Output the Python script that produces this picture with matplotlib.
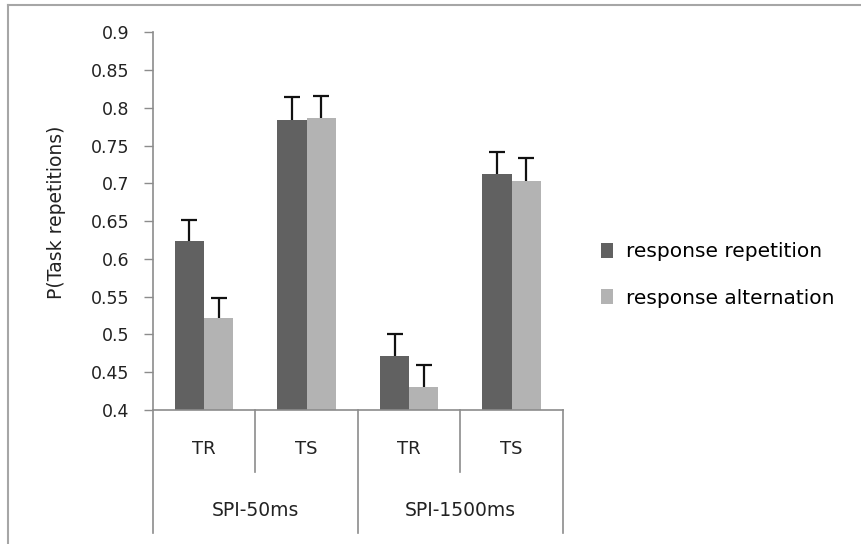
import numpy as np
import matplotlib
matplotlib.use('Agg')
import matplotlib.pyplot as plt
from matplotlib.lines import Line2D
from matplotlib.patches import Patch

# data
conditions = ['TR', 'TS', 'TR', 'TS']
intervals = ['SPI-50ms', 'SPI-1500ms']
series = ['response repetition', 'response alternation']
rep_vals = [0.624, 0.784, 0.472, 0.712]
rep_err = [0.028, 0.030, 0.028, 0.030]
alt_vals = [0.522, 0.786, 0.431, 0.703]
alt_err = [0.026, 0.030, 0.028, 0.031]
yticks = [0.4, 0.45, 0.5, 0.55, 0.6, 0.65, 0.7, 0.75, 0.8, 0.85, 0.9]

dark = '#616161'
light = '#b3b3b3'
axcol = '#8c8c8c'

W, H = 861, 544
fig = plt.figure(figsize=(W/100, H/100), dpi=100)
ax = fig.add_axes([152.7/W, 1-410/H, (563-152.7)/W, (410-32.3)/H])

x = np.arange(len(conditions))
bw = 0.285
ax.bar(x - bw/2, rep_vals, bw, color=dark, zorder=2)
ax.bar(x + bw/2, alt_vals, bw, color=light, zorder=2)
for off, vals, err in [(-bw/2, rep_vals, rep_err), (bw/2, alt_vals, alt_err)]:
    eb = ax.errorbar(x + off, vals, yerr=[np.zeros(4), err], fmt='none',
                     ecolor='#111111', elinewidth=1.6, capsize=6, capthick=1.6,
                     zorder=3)
    eb[1][0].set_visible(False)  # only the upper cap

ax.set_ylim(0.4, 0.9)
ax.set_xlim(-0.5, 3.5)
ax.set_yticks(yticks)
ax.set_yticklabels([('%g' % v) for v in yticks])
ax.tick_params(axis='y', direction='out', length=6.3, width=1, color=axcol,
               pad=10.5, labelsize=12.5, labelcolor='#222222')
ax.set_xticks([])
for s in ['top', 'right']:
    ax.spines[s].set_visible(False)
ax.spines['left'].set_color(axcol)
ax.spines['bottom'].set_color(axcol)
ax.spines['left'].set_linewidth(1.2)
ax.spines['bottom'].set_linewidth(1.2)

# hierarchical category axis
tr = ax.get_xaxis_transform()
for b in [0.5, 2.5]:
    ax.plot([b, b], [0, -0.163], color=axcol, lw=1.2, transform=tr, clip_on=False)
for b in [-0.5, 1.5, 3.5]:
    ax.plot([b, b], [0, -0.326], color=axcol, lw=1.2, transform=tr, clip_on=False)
for xi, lab in zip(x, conditions):
    ax.text(xi, -0.103, lab, transform=tr, ha='center', va='center',
            fontsize=13, color='#222222')
for i, lab in enumerate(intervals):
    ax.text(2*i + 0.5, -0.265, lab, transform=tr, ha='center', va='center',
            fontsize=13.5, color='#222222')

fig.text(57/W, 1-212/H, 'P(Task repetitions)', rotation=90, ha='center',
         va='center', fontsize=13.5, color='#222222')

handles = [Patch(facecolor=dark), Patch(facecolor=light)]
fig.legend(handles, series, loc='center left', bbox_to_anchor=(601/W, 1-275/H),
           frameon=False, fontsize=14.5, handlelength=0.6, handleheight=0.8,
           handletextpad=0.65, labelspacing=1.35, borderpad=0, borderaxespad=0)

# outer chart border (top and left visible)
fig.add_artist(Line2D([8/W, 1], [1-5/H, 1-5/H], color='#a6a6a6', lw=1.5,
                      transform=fig.transFigure))
fig.add_artist(Line2D([8/W, 8/W], [0, 1-5/H], color='#a6a6a6', lw=1.5,
                      transform=fig.transFigure))

fig.savefig('out.png', dpi=100)
